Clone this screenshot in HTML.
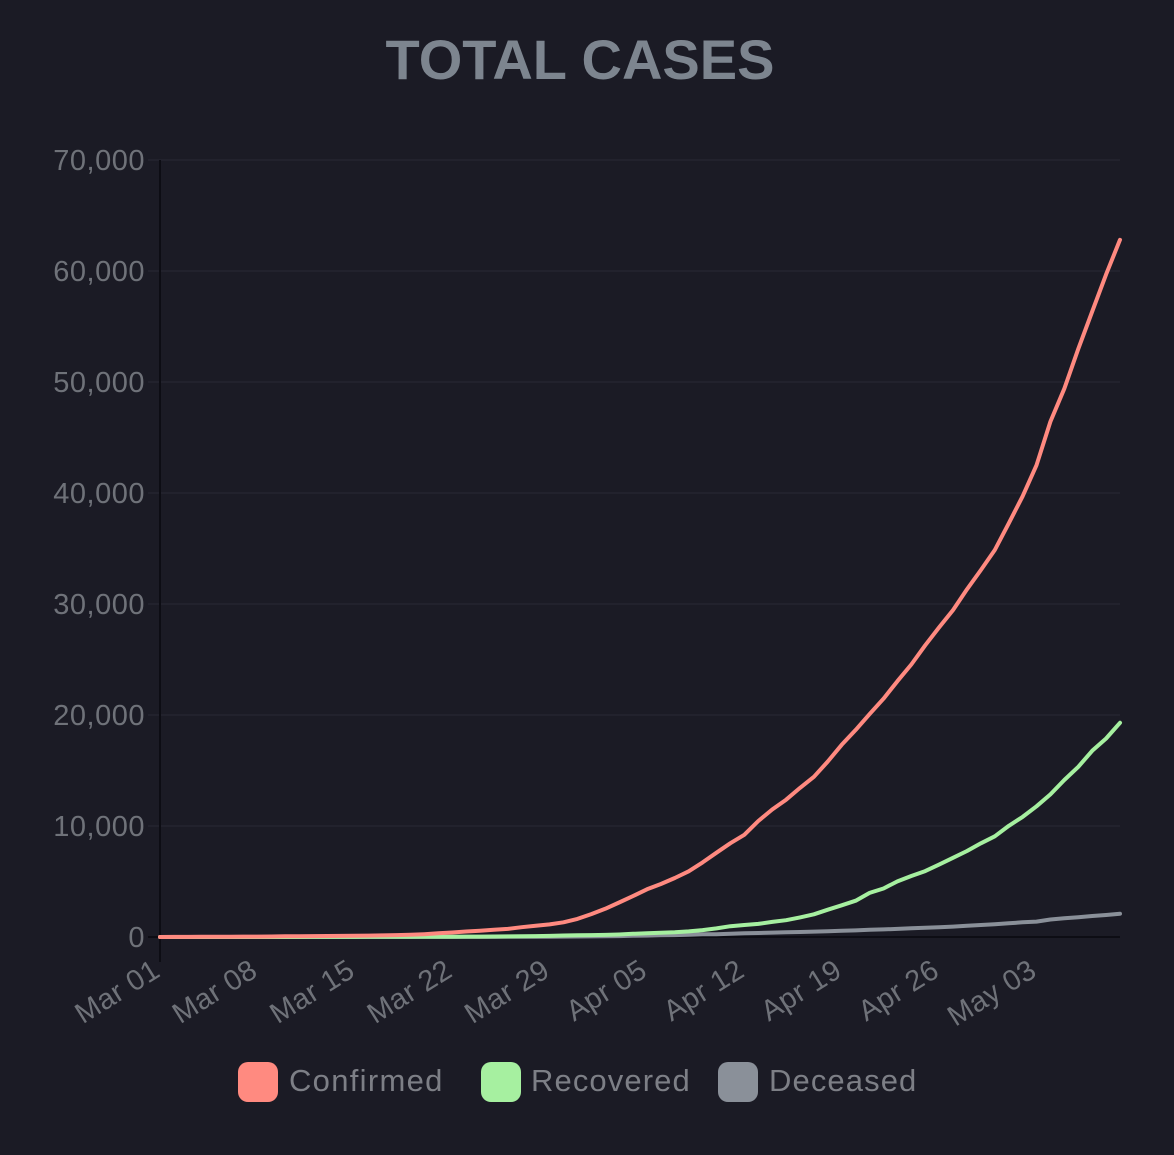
<!DOCTYPE html>
<html><head><meta charset="utf-8"><style>
html,body{margin:0;padding:0;background:#1b1b25;width:1174px;height:1155px;overflow:hidden}
text{font-family:"Liberation Sans",sans-serif}
</style></head><body>
<svg id="c" width="1174" height="1155">
<text x="580" y="79" text-anchor="middle" fill="#7d858f" font-size="56" font-weight="bold">TOTAL CASES</text>
<g id="grid"></g><g id="lines"></g>
<g>
<rect x="238" y="1062" width="40" height="40" rx="10" fill="#ff8a80"/>
<text x="289" y="1091" fill="#7d7f86" font-size="31" letter-spacing="1.3">Confirmed</text>
<rect x="481" y="1062" width="40" height="40" rx="10" fill="#a6f0a0"/>
<text x="531" y="1091" fill="#7d7f86" font-size="31" letter-spacing="1.1">Recovered</text>
<rect x="718" y="1062" width="40" height="40" rx="10" fill="#8a9099"/>
<text x="769" y="1091" fill="#7d7f86" font-size="31" letter-spacing="1.1">Deceased</text>
</g>
</svg>
<script>
const yTicks=[0,10000,20000,30000,40000,50000,60000,70000];
const xTickLabels=["Mar 01","Mar 08","Mar 15","Mar 22","Mar 29","Apr 05","Apr 12","Apr 19","Apr 26","May 03"];
const confirmed=[3,5,6,28,30,31,34,39,48,63,71,81,91,102,112,126,146,171,198,256,334,403,497,571,657,730,883,1019,1139,1326,1635,2059,2545,3105,3684,4293,4778,5311,5916,6725,7598,8446,9205,10453,11487,12371,13432,14429,15812,17312,18654,20079,21472,23041,24552,26283,27890,29451,31324,33062,34863,37257,39699,42505,46434,49400,52987,56351,59695,62808];
const recovered=[3,3,3,3,3,3,3,3,3,4,4,10,10,10,13,14,14,15,20,23,23,24,34,40,43,50,75,85,102,137,150,169,191,229,286,329,375,421,506,620,774,969,1080,1181,1359,1510,1767,2041,2463,2854,3273,3975,4370,5012,5498,5939,6523,7137,7747,8437,9068,10007,10819,11775,12847,14142,15331,16776,17887,19301];
const deceased=[0,0,0,0,0,0,0,0,0,0,0,1,2,2,2,2,3,3,4,5,6,8,10,11,12,16,20,24,28,36,45,56,71,82,109,123,149,169,203,247,254,289,332,359,395,423,451,486,522,560,593,646,685,728,781,825,882,940,1008,1079,1154,1231,1323,1391,1573,1695,1785,1889,1985,2101];
const NS="http://www.w3.org/2000/svg";
const x0=160,x1=1120,yb=937,yt=160;
const xs=i=>x0+i*(x1-x0)/(confirmed.length-1);
const ys=v=>yb-v*(yb-yt)/70000;
const g=document.getElementById('grid'),L=document.getElementById('lines');
function mk(t,a,p){const e=document.createElementNS(NS,t);for(const k in a)e.setAttribute(k,a[k]);p.appendChild(e);return e;}
yTicks.forEach((v,i)=>{
  const ln=mk('line',{x1:x0-12,x2:x1,y1:ys(v),y2:ys(v),stroke:v===0?'#0d0d14':'#22222d','stroke-width':2},g);
  
  
  const t=mk('text',{x:145,y:ys(v)+10,'text-anchor':'end',fill:'#6f7279','font-size':29,'letter-spacing':0.5},g);
  t.textContent=v.toLocaleString('en-US');
  
  
});
const ax=mk('line',{x1:x0,x2:x0,y1:yt,y2:962,stroke:'#0d0d14','stroke-width':2},g);


xTickLabels.forEach((s,i)=>{
  const x=xs(i*7)+2, y=975;
  const t=mk('text',{x:x,y:y,'text-anchor':'end',fill:'#6f7279','font-size':29,'letter-spacing':0.5,transform:`rotate(-32 ${x} ${y})`},g);
  t.textContent=s;
  
  
});
[[deceased,'#8a9099','deceased-line'],[recovered,'#a6f0a0','recovered-line'],[confirmed,'#ff8a80','confirmed-line']].forEach(([d,c,n])=>{
  const p=mk('path',{d:d.map((v,i)=>(i?'L':'M')+xs(i).toFixed(1)+','+ys(v).toFixed(1)).join(''),fill:'none',stroke:c,'stroke-width':4,'stroke-linejoin':'round','stroke-linecap':'round'},L);
  
  
});
</script>
</body></html>
